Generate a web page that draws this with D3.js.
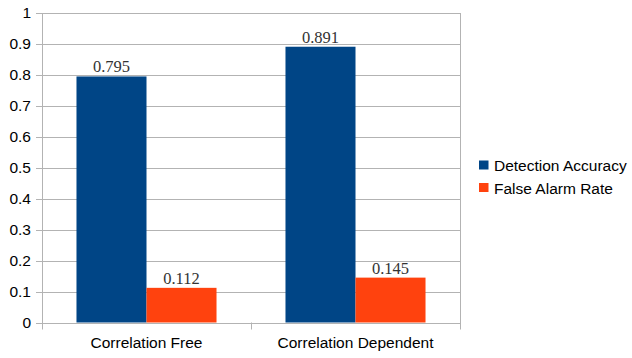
<!DOCTYPE html>
<html>
<head>
<meta charset="utf-8">
<script src="https://cdn.jsdelivr.net/npm/d3@7"></script>
<style>
  html, body { margin: 0; padding: 0; background: #fff; }
  svg { display: block; }
</style>
</head>
<body>
<svg id="chart" width="632" height="358"></svg>
<script>
// Chart data
const categories = ["Correlation Free", "Correlation Dependent"];
const seriesNames = ["Detection Accuracy", "False Alarm Rate"];
const detectionAccuracy = [0.795, 0.891];
const falseAlarmRate = [0.112, 0.145];
const yTicks = [0, 0.1, 0.2, 0.3, 0.4, 0.5, 0.6, 0.7, 0.8, 0.9, 1];
const colors = ["#004586", "#ff420e"];

const seriesValues = [detectionAccuracy, falseAlarmRate];

const svg = d3.select("#chart");
const plot = { left: 42, right: 460, top: 13, bottom: 322.5 };
const grid = "#b3b3b3";
const sans = "'Liberation Sans', Arial, sans-serif";
const serif = "'Liberation Serif', 'Times New Roman', serif";

const y = d3.scaleLinear().domain([0, 1]).range([plot.bottom, plot.top]);
const x = d3.scaleBand().domain(categories).range([plot.left, plot.right]).paddingInner(0).paddingOuter(0);
const barW = x.bandwidth() * 0.335;
const xs = d3.scaleBand().domain(seriesNames).range([0, barW * 2]);

// Horizontal gridlines
svg.append("g").selectAll("line").data(yTicks).join("line")
  .attr("x1", plot.left - 6).attr("x2", plot.right)
  .attr("y1", d => Math.round(y(d)) + 0.5).attr("y2", d => Math.round(y(d)) + 0.5)
  .attr("stroke", grid).attr("stroke-width", 1);

// Plot frame (left and right)
svg.append("line").attr("x1", plot.left + 0.5).attr("x2", plot.left + 0.5)
  .attr("y1", plot.top).attr("y2", plot.bottom + 7).attr("stroke", grid);
svg.append("line").attr("x1", plot.right + 0.5).attr("x2", plot.right + 0.5)
  .attr("y1", plot.top).attr("y2", plot.bottom + 7).attr("stroke", grid);
// Category boundary tick
svg.append("line").attr("x1", Math.round(x(categories[1])) + 0.5).attr("x2", Math.round(x(categories[1])) + 0.5)
  .attr("y1", plot.bottom).attr("y2", plot.bottom + 7).attr("stroke", grid);

// Y tick labels
svg.append("g").selectAll("text").data(yTicks).join("text")
  .attr("x", 31).attr("y", d => y(d)).attr("dy", "0.35em")
  .attr("text-anchor", "end")
  .attr("font-family", sans).attr("font-size", 15.5).attr("fill", "#000")
  .text(d => d3.format("~g")(d));

// Bars
const groups = svg.append("g").selectAll("g").data(categories).join("g")
  .attr("transform", c => `translate(${x(c) + x.bandwidth() / 2 - barW},0)`);

groups.selectAll("rect").data((c, i) => seriesNames.map((s, j) => ({ s, v: seriesValues[j][i], j })))
  .join("rect")
  .attr("x", d => xs(d.s)).attr("width", xs.bandwidth())
  .attr("y", d => y(d.v)).attr("height", d => y(0) - y(d.v))
  .attr("fill", d => colors[d.j]);

// Value labels
groups.selectAll("text").data((c, i) => seriesNames.map((s, j) => ({ s, v: seriesValues[j][i], j })))
  .join("text")
  .attr("x", d => xs(d.s) + xs.bandwidth() / 2)
  .attr("y", d => y(d.v) - 4)
  .attr("text-anchor", "middle")
  .attr("font-family", serif).attr("font-size", 16.5).attr("fill", "#333")
  .text(d => d.v.toFixed(3));

// Category labels
svg.append("g").selectAll("text").data(categories).join("text")
  .attr("x", c => x(c) + x.bandwidth() / 2).attr("y", 348)
  .attr("text-anchor", "middle")
  .attr("font-family", sans).attr("font-size", 15.5).attr("fill", "#000")
  .text(c => c);

// Legend
const legend = svg.append("g").selectAll("g").data(seriesNames).join("g")
  .attr("transform", (d, i) => `translate(479,${165 + i * 22.5})`);
legend.append("rect").attr("x", 0).attr("y", -4.5).attr("width", 9.5).attr("height", 9)
  .attr("fill", (d, i) => colors[i]);
legend.append("text").attr("x", 15).attr("y", 6)
  .attr("font-family", sans).attr("font-size", 15.5).attr("fill", "#000")
  .text(d => d);
</script>
</body>
</html>
